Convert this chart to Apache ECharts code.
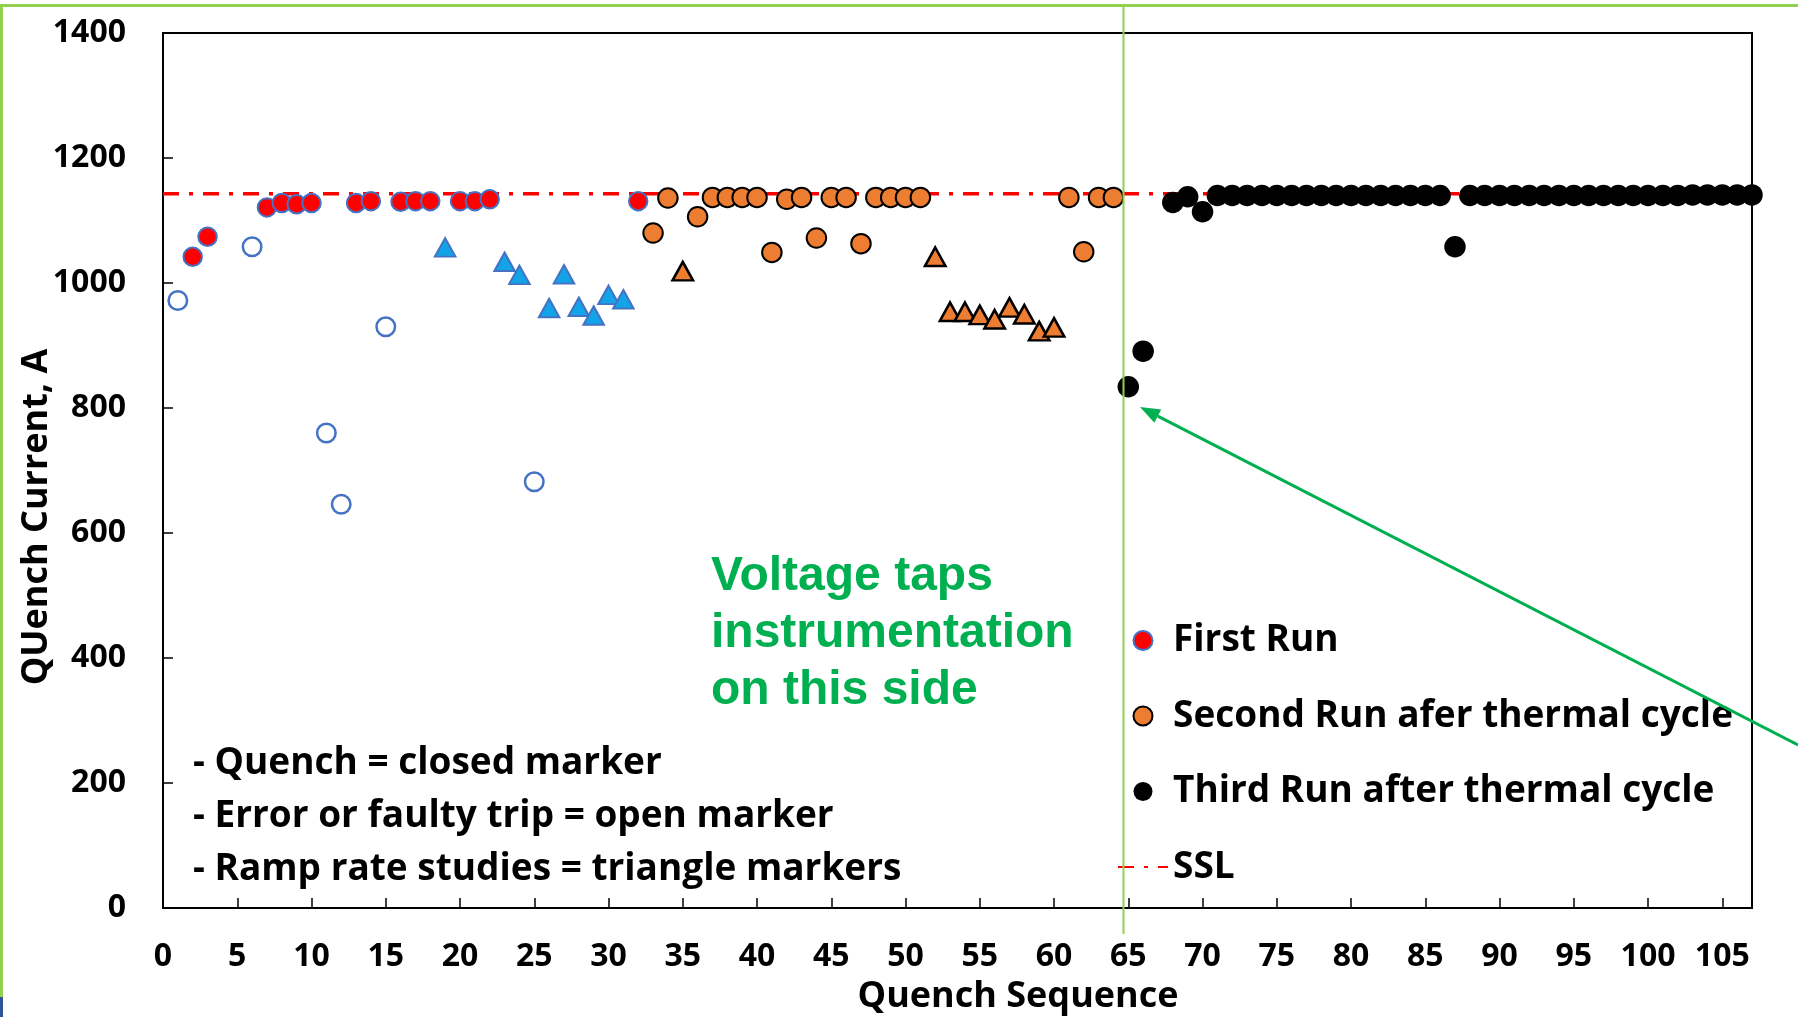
<!DOCTYPE html>
<html>
<head>
<meta charset="utf-8">
<script src="https://cdn.jsdelivr.net/npm/echarts@6/dist/echarts.min.js"></script>
<style>
  html, body { margin: 0; padding: 0; background: #ffffff; }
  #chart { width: 1798px; height: 1017px; }
</style>
</head>
<body>
<div id="chart"></div>
<script>
// Quench current (A) versus quench sequence number, three test runs.

// First run: quenches (closed), error / faulty trips (open), ramp-rate studies (triangles)
const firstRunQuench = [
  [2, 1042], [3, 1074], [7, 1121], [8, 1128], [9, 1126], [10, 1128],
  [13, 1128], [14, 1131], [16, 1130], [17, 1131], [18, 1131],
  [20, 1131], [21, 1131], [22, 1134], [32, 1131]
];
const firstRunTrip = [
  [1, 972], [6, 1058], [11, 760], [12, 646], [15, 930], [25, 682]
];
const firstRunRamp = [
  [19, 1057], [23, 1034], [24, 1013], [26, 960], [27, 1014],
  [28, 962], [29, 948], [30, 981], [31, 974]
];

// Second run after thermal cycle
const secondRunQuench = [
  [33, 1080], [34, 1136], [36, 1106], [37, 1137], [38, 1137], [39, 1137],
  [40, 1137], [41, 1049], [42, 1134], [43, 1137], [44, 1072], [45, 1137],
  [46, 1137], [47, 1063], [48, 1137], [49, 1137], [50, 1137], [51, 1137],
  [61, 1137], [62, 1050], [63, 1137], [64, 1137]
];
const secondRunRamp = [
  [35, 1019], [52, 1042], [53, 954], [54, 954], [55, 949], [56, 942],
  [57, 961], [58, 950], [59, 923], [60, 929]
];

// Third run after thermal cycle
const thirdRun = [
  [65, 834], [66, 891], [68, 1129], [69, 1138], [70, 1114],
  [71, 1140], [72, 1140], [73, 1140], [74, 1140], [75, 1140], [76, 1140],
  [77, 1140], [78, 1140], [79, 1140], [80, 1140], [81, 1140], [82, 1140],
  [83, 1140], [84, 1140], [85, 1140], [86, 1140], [87, 1058],
  [88, 1140], [89, 1140], [90, 1140], [91, 1140], [92, 1140], [93, 1140],
  [94, 1140], [95, 1140], [96, 1140], [97, 1140], [98, 1140], [99, 1140],
  [100, 1140], [101, 1140], [102, 1140], [103, 1141], [104, 1141],
  [105, 1141], [106, 1141], [107, 1141]
];

// Short-sample limit
const sslValue = 1143;
const sslLine = [[0, sslValue], [107, sslValue]];

const legendNames = ['First Run', 'Second Run afer thermal cycle', 'Third Run after thermal cycle', 'SSL'];
const noteLines = ['- Quench = closed marker', '- Error or faulty trip = open marker', '- Ramp rate studies = triangle markers'];
const calloutLines = ['Voltage taps', 'instrumentation', 'on this side'];
const xTitle = 'Quench Sequence';
const yTitle = 'QUench Current, A';

const FONT = '"Open Sans", "Noto Sans", sans-serif';
const GREEN = '#00B050';
const FRAME_GREEN = '#92D050';
const BLUE_EDGE = '#4472C4';
const ORANGE = '#ED7D31';

const chart = echarts.init(document.getElementById('chart'), null, { renderer: 'canvas' });

// annotation geometry (pixels)
const arrowFrom = [1798, 745];
const arrowTip = [1140, 407];
const dx = arrowTip[0] - arrowFrom[0], dy = arrowTip[1] - arrowFrom[1];
const len = Math.sqrt(dx * dx + dy * dy);
const ux = dx / len, uy = dy / len;
const headLen = 20, headHalf = 7.5;
const baseC = [arrowTip[0] - ux * headLen, arrowTip[1] - uy * headLen];
const head = [
  arrowTip,
  [baseC[0] - uy * headHalf, baseC[1] + ux * headHalf],
  [baseC[0] + uy * headHalf, baseC[1] - ux * headHalf]
];

const graphics = [
  // slide frame
  { type: 'rect', shape: { x: 0, y: 4, width: 1798, height: 3 }, style: { fill: FRAME_GREEN }, z: 50 },
  { type: 'rect', shape: { x: 0, y: 4, width: 3, height: 993 }, style: { fill: FRAME_GREEN }, z: 50 },
  { type: 'rect', shape: { x: 0, y: 997, width: 3, height: 20 }, style: { fill: '#2F5597' }, z: 50 },
  // divider for the instrumented side
  { type: 'line', shape: { x1: 1123.5, y1: 5, x2: 1123.5, y2: 934 }, style: { stroke: FRAME_GREEN, lineWidth: 2 }, z: 40 },
  // arrow
  { type: 'line', shape: { x1: arrowFrom[0], y1: arrowFrom[1], x2: baseC[0], y2: baseC[1] }, style: { stroke: GREEN, lineWidth: 3 }, z: 60 },
  { type: 'polygon', shape: { points: head }, style: { fill: GREEN }, z: 60 },
  // axis titles
  {
    type: 'text', x: 37, y: 517, rotation: Math.PI / 2, z: 45,
    style: { text: yTitle, x: 0, y: 0, fill: '#000', font: 'bold 36px ' + FONT, align: 'center', verticalAlign: 'middle' }
  },
  {
    type: 'text', z: 45,
    style: { text: xTitle, x: 1018, y: 997, fill: '#000', font: 'bold 36px ' + FONT, align: 'center', verticalAlign: 'middle' }
  }
];

calloutLines.forEach((t, i) => {
  graphics.push({
    type: 'text', z: 45,
    style: { text: t, x: 711, y: 577 + i * 57, fill: GREEN, font: 'bold 48px "Liberation Sans", Arial, sans-serif', verticalAlign: 'middle' }
  });
});
noteLines.forEach((t, i) => {
  graphics.push({
    type: 'text', z: 45,
    style: { text: t, x: 193, y: 763 + i * 53, fill: '#000', font: 'bold 37px ' + FONT, verticalAlign: 'middle' }
  });
});

const option = {
  backgroundColor: '#ffffff',
  animation: false,
  grid: {
    left: 163, right: 46, top: 33, bottom: 109,
    outerBoundsMode: 'none', containLabel: false,
    show: true, borderColor: '#000', borderWidth: 2, backgroundColor: 'transparent'
  },
  xAxis: {
    type: 'value', min: 0, max: 107, interval: 5,
    axisLine: { onZero: false, lineStyle: { color: '#000', width: 2 } },
    axisTick: { inside: true, length: 10, lineStyle: { color: '#000', width: 1.5 } },
    axisLabel: {
      margin: 33, color: '#000', fontFamily: FONT, fontWeight: 'bold', fontSize: 32,
      formatter: v => (v % 5 === 0 ? String(v) : '')
    },
    splitLine: { show: false }
  },
  yAxis: {
    type: 'value', min: 0, max: 1400, interval: 200,
    axisLine: { show: true, lineStyle: { color: '#000', width: 2 } },
    axisTick: { show: true, inside: true, length: 10, lineStyle: { color: '#000', width: 1.5 } },
    axisLabel: { margin: 37, color: '#000', fontFamily: FONT, fontWeight: 'bold', fontSize: 32, formatter: v => String(v) },
    splitLine: { show: false }
  },
  legend: {
    data: [
      { name: legendNames[0] },
      { name: legendNames[1] },
      { name: legendNames[2] },
      { name: legendNames[3], itemStyle: { opacity: 0 } }
    ],
    orient: 'vertical', left: 1112, top: 617,
    itemWidth: 50, itemHeight: 19, itemGap: 38.5,
    selectedMode: false,
    textStyle: { fontFamily: FONT, fontWeight: 'bold', fontSize: 37, color: '#000' }
  },
  series: [
    {
      name: 'SSL', type: 'line', data: sslLine, symbol: 'none', z: 1,
      lineStyle: { color: '#FF0000', width: 3.5, type: [16, 10, 4, 10] },
      itemStyle: { color: 'rgba(255,0,0,0)' }
    },
    {
      name: 'First Run', type: 'scatter', data: firstRunQuench, z: 3,
      symbol: 'circle', symbolSize: 18.5,
      itemStyle: { color: '#FF0000', borderColor: BLUE_EDGE, borderWidth: 2, opacity: 1 }
    },
    {
      name: 'First Run trip', type: 'scatter', data: firstRunTrip, z: 3,
      symbol: 'circle', symbolSize: 18.5,
      itemStyle: { color: 'rgba(255,255,255,0)', borderColor: BLUE_EDGE, borderWidth: 2.5, opacity: 1 }
    },
    {
      name: 'First Run ramp', type: 'scatter', data: firstRunRamp, z: 3,
      symbol: 'triangle', symbolSize: [20.5, 18.5],
      itemStyle: { color: '#12A4E6', borderColor: BLUE_EDGE, borderWidth: 2, opacity: 1 }
    },
    {
      name: 'Second Run afer thermal cycle', type: 'scatter', data: secondRunQuench, z: 3,
      symbol: 'circle', symbolSize: 19.5,
      itemStyle: { color: ORANGE, borderColor: '#000', borderWidth: 2, opacity: 1 }
    },
    {
      name: 'Second Run ramp', type: 'scatter', data: secondRunRamp, z: 3,
      symbol: 'triangle', symbolSize: [20.5, 18.5],
      itemStyle: { color: ORANGE, borderColor: '#000', borderWidth: 2.5, opacity: 1 }
    },
    {
      name: 'Third Run after thermal cycle', type: 'scatter', data: thirdRun, z: 3,
      symbol: 'circle', symbolSize: 21.5,
      itemStyle: { color: '#000', opacity: 1 }
    }
  ],
  graphic: graphics
};

chart.setOption(option);
</script>
</body>
</html>
